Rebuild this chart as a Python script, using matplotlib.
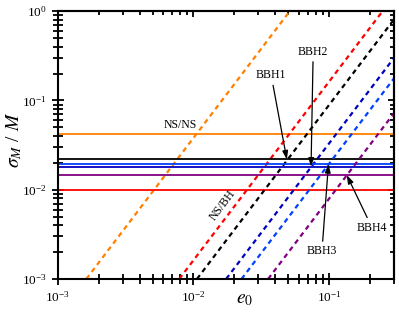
import matplotlib
matplotlib.use("Agg")
import matplotlib.pyplot as plt

plt.rcParams['font.family'] = 'serif'
plt.rcParams['font.serif'] = ['Liberation Serif', 'DejaVu Serif']
plt.rcParams['mathtext.fontset'] = 'stix'

# horizontal levels sigma_M / M
names = ['NS/NS', 'NS/BH', 'BBH1', 'BBH2', 'BBH3', 'BBH4']
colors = ['#ff8000', '#ff0000', '#000000', '#0000c0', '#0040ff', '#800080']
levels = [0.042, 0.010, 0.0218, 0.0181, 0.0194, 0.0146]

# dashed lines: e0 where they cross sigma=1e-3 and sigma=1
sig_ends = [1e-3, 1.0]
e0_lo = [1.62e-3, 7.85e-3, 0.0106, 0.0174, 0.0226, 0.0355]
e0_hi = [0.0513, 0.248, 0.335, 0.55, 0.716, 1.12]

# arrow targets (crossings) and label spots (axes fraction)
arrow_names = ['BBH1', 'BBH2', 'BBH3', 'BBH4']
arrow_xy = [(0.0488, 0.0218), (0.0736, 0.0181), (0.0989, 0.0194), (0.135, 0.0146)]
arrow_txt = [(0.635, 0.761), (0.760, 0.849), (0.786, 0.103), (0.935, 0.192)]

fig = plt.figure(figsize=(3.99, 3.18), dpi=100)
ax = fig.add_axes([0.145, 0.1226, 0.842, 0.8424])

for c, lev, lo, hi in zip(colors, levels, e0_lo, e0_hi):
    ax.axhline(lev, color=c, lw=1.3)
    ax.plot([lo, hi], sig_ends, color=c, lw=1.6, ls=(0, (2.2, 1.8)))

ax.set_xscale('log')
ax.set_yscale('log')
ax.set_xlim(1e-3, 0.3)
ax.set_ylim(1e-3, 1)

ax.text(0.365, 0.575, 'NS/NS', transform=ax.transAxes, ha='center', va='center', fontsize=8.5)
ax.text(0.49, 0.275, 'NS/BH', transform=ax.transAxes, ha='center', va='center',
        fontsize=8.5, rotation=53)

for n, xy, t in zip(arrow_names, arrow_xy, arrow_txt):
    ax.annotate(n, xy=xy, xycoords='data', xytext=t, textcoords='axes fraction',
                ha='center', va='center', fontsize=8.5,
                arrowprops=dict(arrowstyle='-|>,head_length=0.6,head_width=0.2',
                                color='black', lw=0.9, shrinkA=1, shrinkB=0))

for s in ax.spines.values():
    s.set_linewidth(1.5)
ax.tick_params(which='both', direction='inout', width=1.3, labelsize=9.5,
               top=False, right=False)
ax.tick_params(which='major', length=8.6)
ax.tick_params(which='minor', length=6.5)

sx = ax.secondary_xaxis('top')
sy = ax.secondary_yaxis('right')
for sa in (sx, sy):
    sa.tick_params(which='both', direction='in', width=1.3, labeltop=False, labelright=False)
    sa.tick_params(which='major', length=4.3)
    sa.tick_params(which='minor', length=3.2)
    for s in sa.spines.values():
        s.set_linewidth(1.5)

ax.set_xlabel(r'$e_0$', fontsize=14)
ax.set_ylabel(r'$\sigma_M$ / $M$', fontsize=14)
ax.xaxis.set_label_coords(0.557, -0.045)
ax.yaxis.set_label_coords(-0.10, 0.52)

fig.savefig('out.png', dpi=100)
